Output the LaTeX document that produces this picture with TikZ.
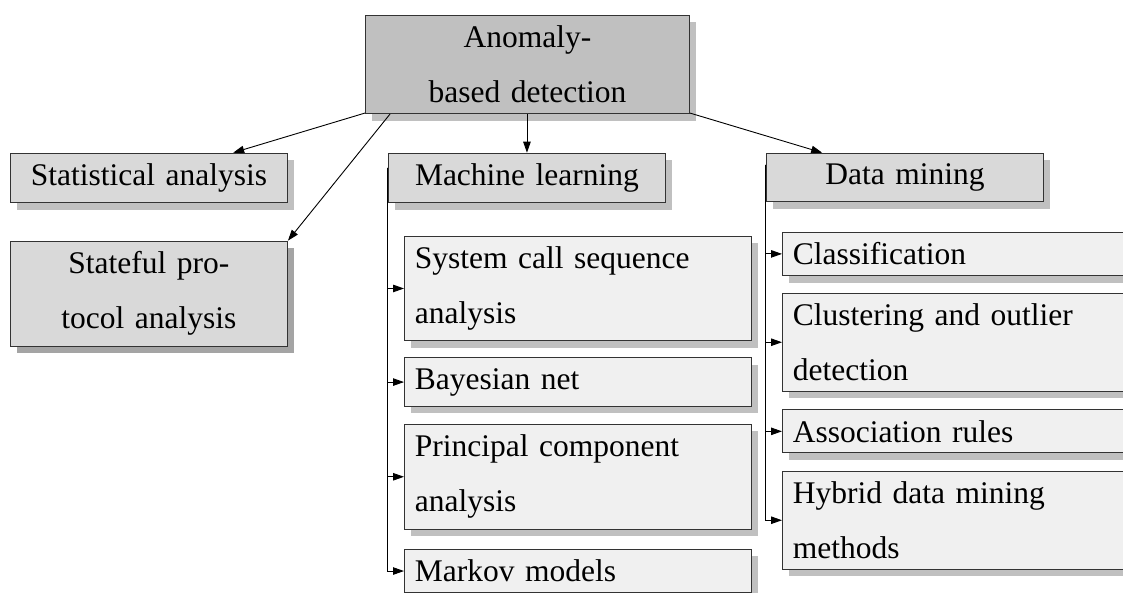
\documentclass[tikz,border=0pt]{standalone}
\usepackage{fontspec}
\setmainfont{Liberation Serif}[WordSpace=1.5]
\usetikzlibrary{arrows.meta,shadows,calc}

\definecolor{rootfill}{HTML}{C0C0C0}
\definecolor{midfill}{HTML}{D9D9D9}
\definecolor{leaffill}{HTML}{F0F0F0}
\definecolor{shadowlight}{HTML}{C0C0C0}
\definecolor{shadowdark}{HTML}{A4A4A4}
\definecolor{edgegray}{HTML}{333333}

\tikzset{
  box/.style={draw=edgegray, line width=0.9pt, inner sep=10.5pt, anchor=north west,
              font=\fontsize{31.5}{55}\selectfont},
  rootbox/.style={box, fill=rootfill, align=center, text width=303pt,
              drop shadow={shadow xshift=7pt, shadow yshift=-7pt, fill=shadowlight, opacity=1}},
  midbox/.style={box, fill=midfill, align=center, text width=256pt,
              drop shadow={shadow xshift=7pt, shadow yshift=-7pt, fill=shadowlight, opacity=1}},
  midboxdark/.style={midbox,
              drop shadow={shadow xshift=7pt, shadow yshift=-7pt, fill=shadowdark, opacity=1}},
  leafbox/.style={box, fill=leaffill, align=left, text width=325.7pt,
              drop shadow={shadow xshift=7pt, shadow yshift=-7pt, fill=shadowlight, opacity=1}},
  arr/.style={draw=black, line width=0.9pt, -{Triangle[length=11pt,width=7.5pt]}}
}

\begin{document}
\begin{tikzpicture}[x=1pt, y=-1pt]
  \useasboundingbox (0,0) rectangle (1123,593);
  \clip (0,0) rectangle (1123,593);

  % top category
  \node[rootbox] (root) at (365,15) {Anomaly-\\based detection};

  % second level
  \node[midbox] (stat) at (10,152.7) {Statistical analysis};
  \node[midboxdark] (state) at (10,240.7) {Stateful pro-\\tocol analysis};
  \node[midbox] (ml) at (388,152.7) {Machine learning};
  \node[midbox] (dm) at (766,152.7) {Data mining};

  % machine learning methods
  \node[leafbox] (sys) at (404,235.7) {System call sequence\\analysis};
  \node[leafbox] (bayes) at (404,357.3) {Bayesian net};
  \node[leafbox] (pca) at (404,424) {Principal component\\analysis};
  \node[leafbox] (markov) at (404,549) {Markov models};

  % data mining methods
  \node[leafbox] (class) at (782,231.7) {Classification};
  \node[leafbox] (clust) at (782,292.7) {Clustering and outlier\\detection};
  \node[leafbox] (assoc) at (782,409.3) {Association rules};
  \node[leafbox] (hybrid) at (782,470.7) {Hybrid data mining\\methods};

  % links from the top category
  \draw[arr] (root) -- (stat);
  \draw[arr] ($(root.south west)!0.077!(root.south east)$) -- (state.north east);
  \draw[arr] (root.south -| ml.north) -- (ml.north);
  \draw[arr] (root) -- (dm);

  % trunk lines for the sub-methods
  \coordinate (mltrunk) at ($(ml.north west)+(-0.7,15)$);
  \coordinate (dmtrunk) at ($(dm.north west)+(-0.5,12)$);
  \foreach \leaf in {sys,bayes,pca,markov}
    \draw[arr] (mltrunk) |- (\leaf.west);
  \foreach \leaf in {class,clust,assoc,hybrid}
    \draw[arr] (dmtrunk) |- (\leaf.west);
\end{tikzpicture}
\end{document}
